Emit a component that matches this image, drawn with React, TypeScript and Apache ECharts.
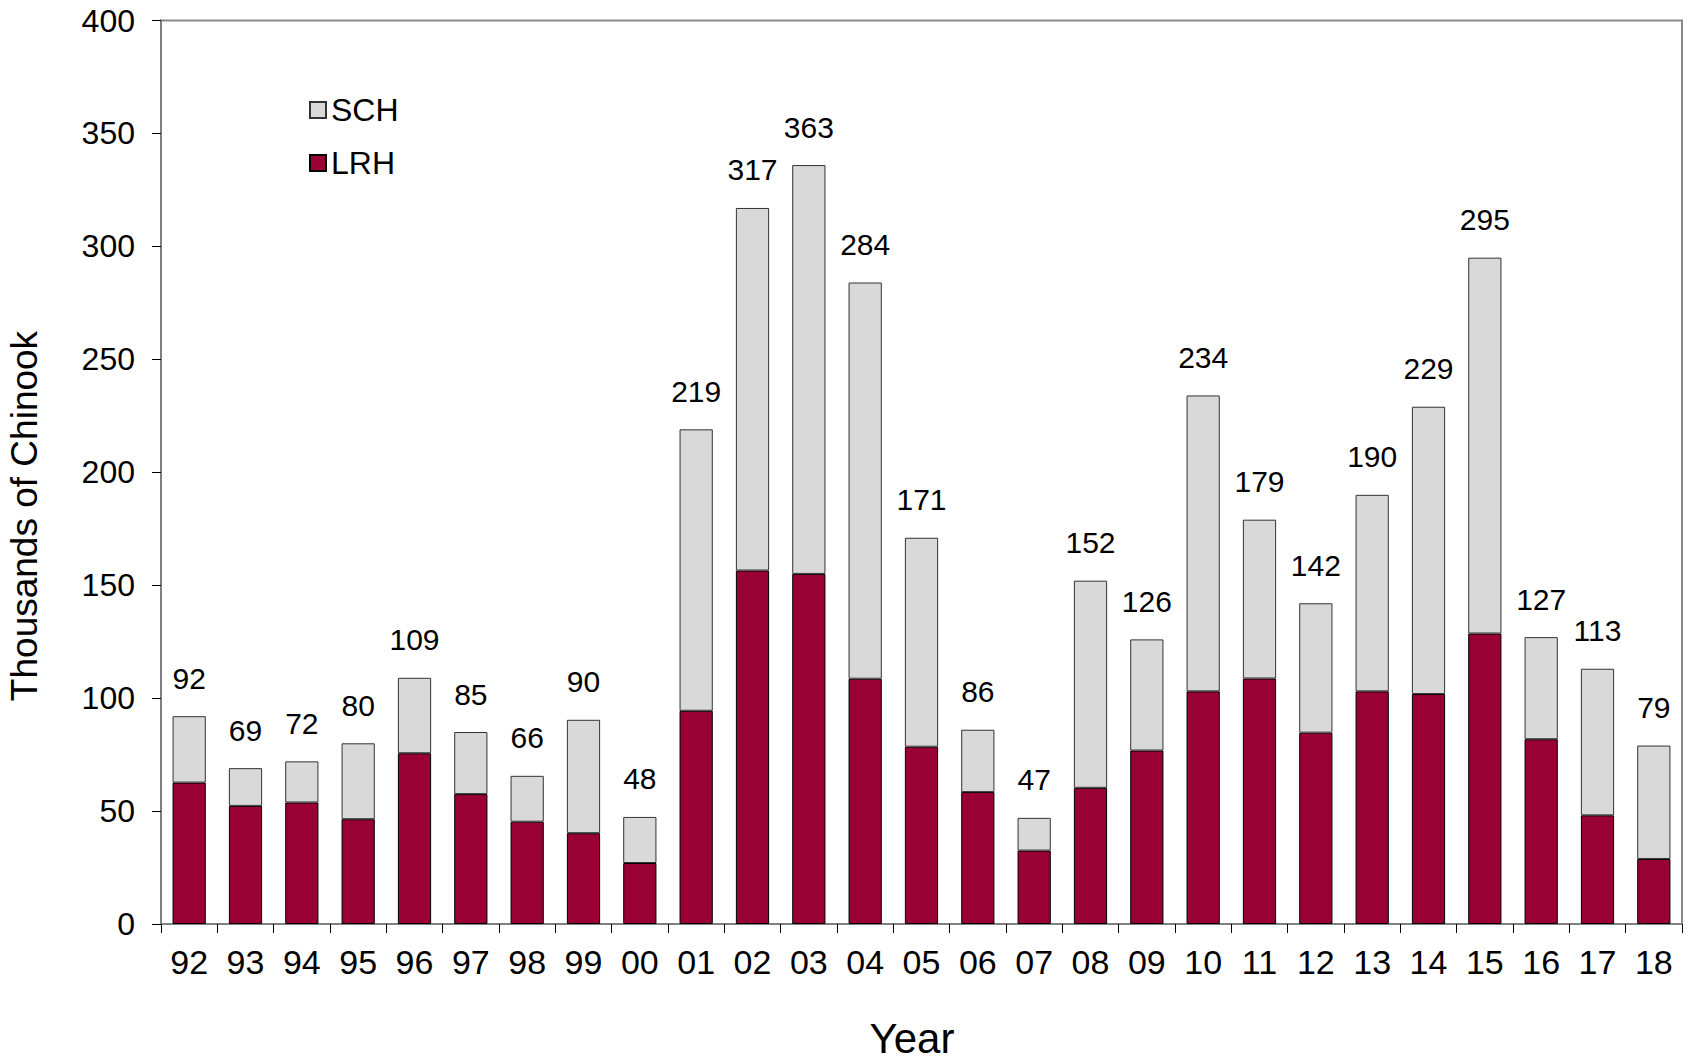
import React, { useEffect, useRef } from "react";
import * as echarts from "echarts";

const years = ["92","93","94","95","96","97","98","99","00","01","02","03","04","05","06","07","08","09","10","11","12","13","14","15","16","17","18"];
const lrh = [62.6, 52.3, 53.8, 46.4, 75.6, 57.5, 45.3, 40.2, 27.0, 94.4, 156.5, 155.0, 108.6, 78.5, 58.4, 32.5, 60.3, 76.8, 103.0, 108.7, 84.7, 103.0, 101.8, 128.6, 81.8, 48.1, 28.8];
const sch = [29.4, 16.7, 18.2, 33.6, 33.4, 27.5, 20.3, 50.2, 20.4, 124.6, 160.5, 181.0, 175.4, 92.5, 27.6, 14.5, 91.7, 49.2, 131.0, 70.3, 57.3, 87.0, 127.2, 166.4, 45.2, 64.9, 50.2];
const totalLabels = [92, 69, 72, 80, 109, 85, 66, 90, 48, 219, 317, 363, 284, 171, 86, 47, 152, 126, 234, 179, 142, 190, 229, 295, 127, 113, 79];
const yTicks = { min: 0, max: 400, interval: 50 };

const FONT = "'Liberation Sans', Arial, sans-serif";

export default function App() {
  const ref = useRef<HTMLDivElement>(null);
  useEffect(() => {
    if (!ref.current) return;
    const chart = echarts.init(ref.current, null, { renderer: "svg" });
    chart.setOption({
      animation: false,
      backgroundColor: "#ffffff",
      textStyle: { fontFamily: FONT, color: "#000" },
      grid: {
        left: 161,
        right: 14,
        top: 20.5,
        bottom: 140,
        show: true,
        borderColor: "#8a8a8a",
        borderWidth: 2,
        outerBoundsMode: "none",
      },
      legend: {
        data: ["SCH", "LRH"],
        orient: "vertical",
        left: 309,
        top: 94,
        padding: 0,
        itemWidth: 16,
        itemHeight: 16,
        itemGap: 21,
        itemTextGap: 7,
        icon: "rect",
        textStyle: { fontFamily: FONT, fontSize: 32, color: "#000" },
      },
      xAxis: {
        type: "category",
        data: years,
        axisLine: { lineStyle: { color: "#808080", width: 2 } },
        axisTick: { show: true, length: 9, lineStyle: { color: "#000", width: 1 } },
        axisLabel: { fontFamily: FONT, fontSize: 34, color: "#000", margin: 21 },
      },
      yAxis: {
        type: "value",
        min: yTicks.min,
        max: yTicks.max,
        interval: yTicks.interval,
        splitLine: { show: false },
        axisLine: { show: true, lineStyle: { color: "#808080", width: 2 } },
        axisTick: { show: true, length: 9, lineStyle: { color: "#000", width: 1 } },
        axisLabel: { fontFamily: FONT, fontSize: 32, color: "#000", margin: 26 },
      },
      graphic: [
        {
          type: "text",
          x: 24,
          y: 516,
          rotation: Math.PI / 2,
          style: {
            text: "Thousands of Chinook",
            fontFamily: FONT,
            fontSize: 37,
            fill: "#000",
            align: "center",
            verticalAlign: "middle",
          },
        },
        {
          type: "text",
          x: 912,
          y: 1038,
          style: {
            text: "Year",
            fontFamily: FONT,
            fontSize: 42,
            lineHeight: 34,
            fill: "#000",
            align: "center",
            verticalAlign: "middle",
          },
        },
      ],
      series: [
        {
          name: "LRH",
          type: "bar",
          stack: "total",
          data: lrh,
          barWidth: "59%",
          itemStyle: { color: "#990033", borderColor: "#000", borderWidth: 1 },
        },
        {
          name: "SCH",
          type: "bar",
          stack: "total",
          data: sch,
          barWidth: "59%",
          itemStyle: { color: "#d9d9d9", borderColor: "#333", borderWidth: 1 },
          label: {
            show: true,
            position: "top",
            distance: 23,
            fontFamily: FONT,
            fontSize: 30,
            color: "#000",
            formatter: (p: any) => String(totalLabels[p.dataIndex]),
          },
        },
      ],
    });
    return () => chart.dispose();
  }, []);
  return (
    <div
      ref={ref}
      style={{ position: "fixed", left: 0, top: 0, width: 1696, height: 1064 }}
    />
  );
}
